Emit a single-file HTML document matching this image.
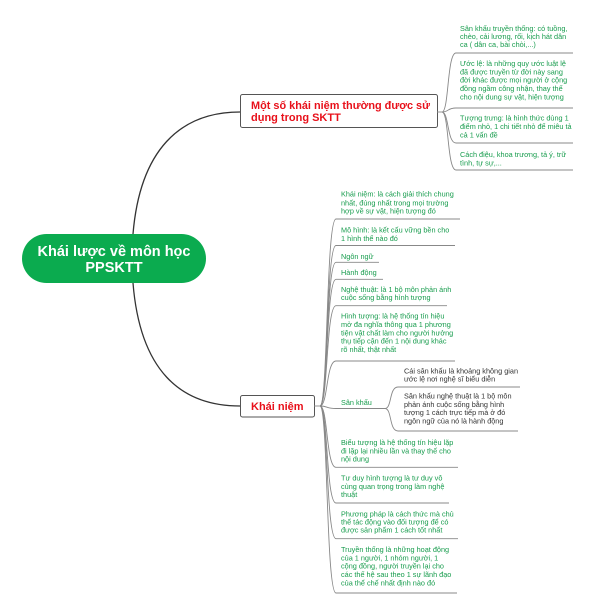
<!DOCTYPE html>
<html><head><meta charset="utf-8"><style>
html,body{margin:0;padding:0;background:#fff;}
svg{display:block;}
text{font-family:"Liberation Sans",Arial,sans-serif;}
.g{fill:#179c4d;font-size:7.3px;}
.d{fill:#333;font-size:7.3px;}
.r{fill:#e8101a;font-size:11px;font-weight:bold;}
.ln{fill:none;stroke:#888;stroke-width:0.9;}
</style></head><body>
<svg width="600" height="616" viewBox="0 0 600 616" xmlns="http://www.w3.org/2000/svg">
<path d="M133,234 C140,150 180,112 240,112" fill="none" stroke="#333" stroke-width="1.3"/>
<path d="M133,283 C140,370 180,406 240,406" fill="none" stroke="#333" stroke-width="1.3"/>
<rect x="22" y="234" width="184" height="49" rx="24.5" fill="#0bab4f"/>
<text x="114" y="256" text-anchor="middle" fill="#fff" font-size="14.5" font-weight="bold">Khái lược về môn học</text>
<text x="114" y="272" text-anchor="middle" fill="#fff" font-size="14.5" font-weight="bold">PPSKTT</text>

<rect x="240.5" y="94.5" width="197" height="33" rx="2" fill="#fff" stroke="#555" stroke-width="1"/>
<text class="r" x="251" y="109" textLength="179" lengthAdjust="spacingAndGlyphs">Một số khái niệm thường được sử</text>
<text class="r" x="251" y="121">dụng trong SKTT</text>
<path d="M437,112 L442,112" class="ln" stroke="#555"/>
<g class="ln">
<path d="M442,112 C449,112 447,53 456,53 L573,53"/>
<path d="M442,112 C449,112 447,108 456,108 L573,108"/>
<path d="M442,112 C449,112 447,143 456,143 L573,143"/>
<path d="M442,112 C449,112 447,170 456,170 L573,170"/>
</g>
<text class="g" x="460" y="31">Sân khấu truyền thống: có tuồng,</text>
<text class="g" x="460" y="39">chèo, cải lương, rối, kịch hát dân</text>
<text class="g" x="460" y="47">ca ( dân ca, bài chòi,...)</text>
<text class="g" x="460" y="66">Ước lệ: là những quy ước luật lệ</text>
<text class="g" x="460" y="74.4">đã được truyền từ đời này sang</text>
<text class="g" x="460" y="82.7">đời khác được mọi người ở cộng</text>
<text class="g" x="460" y="91">đồng ngầm công nhận, thay thế</text>
<text class="g" x="460" y="99.4">cho nội dung sự vật, hiện tượng</text>
<text class="g" x="460" y="120.7">Tượng trưng: là hình thức dùng 1</text>
<text class="g" x="460" y="129.2">điểm nhỏ, 1 chi tiết nhỏ để miêu tả</text>
<text class="g" x="460" y="137.6">cả 1 vấn đề</text>
<text class="g" x="460" y="157">Cách điệu, khoa trương, tả ý, trữ</text>
<text class="g" x="460" y="165.6">tình, tự sự,...</text>

<rect x="240.5" y="395.5" width="74" height="21.5" rx="2" fill="#fff" stroke="#555" stroke-width="1"/>
<text class="r" x="251" y="410">Khái niệm</text>
<path d="M314,406 L320,406" class="ln" stroke="#555"/>
<g class="ln">
<path d="M320,406 C328,406 326,219 336,219 L460,219"/>
<path d="M320,406 C328,406 326,245.5 336,245.5 L455,245.5"/>
<path d="M320,406 C328,406 326,262.3 336,262.3 L379,262.3"/>
<path d="M320,406 C328,406 326,279.3 336,279.3 L383,279.3"/>
<path d="M320,406 C328,406 326,305.7 336,305.7 L447,305.7"/>
<path d="M320,406 C328,406 326,361 336,361 L455,361"/>
<path d="M320,406 C328,406 326,408.5 336,408.5 L385,408.5"/>
<path d="M320,406 C328,406 326,467.3 336,467.3 L458,467.3"/>
<path d="M320,406 C328,406 326,503 336,503 L449,503"/>
<path d="M320,406 C328,406 326,538.7 336,538.7 L458,538.7"/>
<path d="M320,406 C328,406 326,593 336,593 L457,593"/>
<path d="M385,408.5 C392,408.5 389,387 398,387 L520,387"/>
<path d="M385,408.5 C392,408.5 389,431 398,431 L518,431"/>
</g>
<text class="g" x="341" y="196.7">Khái niệm: là cách giải thích chung</text>
<text class="g" x="341" y="205.4">nhất, đúng nhất trong mọi trường</text>
<text class="g" x="341" y="213.7">hợp về sự vật, hiện tượng đó</text>
<text class="g" x="341" y="232.7">Mô hình: là kết cấu vững bền cho</text>
<text class="g" x="341" y="241">1 hình thể nào đó</text>
<text class="g" x="341" y="259">Ngôn ngữ</text>
<text class="g" x="341" y="275">Hành động</text>
<text class="g" x="341" y="292">Nghệ thuật: là 1 bộ môn phản ánh</text>
<text class="g" x="341" y="300">cuộc sống bằng hình tượng</text>
<text class="g" x="341" y="318.4">Hình tượng: là hệ thống tín hiệu</text>
<text class="g" x="341" y="327">mở đa nghĩa thông qua 1 phương</text>
<text class="g" x="341" y="335.4">tiện vật chất làm cho người hưởng</text>
<text class="g" x="341" y="343.7">thụ tiếp cận đến 1 nội dung khác</text>
<text class="g" x="341" y="352">rõ nhất, thật nhất</text>
<text class="g" x="341" y="405.2">Sân khấu</text>
<text class="d" x="404" y="373.4">Cái sân khấu là khoảng không gian</text>
<text class="d" x="404" y="381.7">ước lệ nơi nghệ sĩ biểu diễn</text>
<text class="d" x="404" y="398.7">Sân khấu nghệ thuật là 1 bộ môn</text>
<text class="d" x="404" y="407">phản ánh cuộc sống bằng hình</text>
<text class="d" x="404" y="415">tượng 1 cách trực tiếp mà ở đó</text>
<text class="d" x="404" y="423.4">ngôn ngữ của nó là hành động</text>
<text class="g" x="341" y="445">Biểu tượng là hệ thống tín hiệu lặp</text>
<text class="g" x="341" y="453.4">đi lặp lại nhiều lần và thay thế cho</text>
<text class="g" x="341" y="461.7">nội dung</text>
<text class="g" x="341" y="480.7">Tư duy hình tượng là tư duy vô</text>
<text class="g" x="341" y="489">cùng quan trọng trong làm nghệ</text>
<text class="g" x="341" y="497">thuật</text>
<text class="g" x="341" y="516.4">Phương pháp là cách thức mà chủ</text>
<text class="g" x="341" y="524.7">thể tác động vào đối tượng để có</text>
<text class="g" x="341" y="532.7">được sản phẩm 1 cách tốt nhất</text>
<text class="g" x="341" y="552">Truyền thống là những hoạt động</text>
<text class="g" x="341" y="560.4">của 1 người, 1 nhóm người, 1</text>
<text class="g" x="341" y="568.7">cộng đồng, người truyền lại cho</text>
<text class="g" x="341" y="577">các thế hệ sau theo 1 sự lãnh đạo</text>
<text class="g" x="341" y="585.4">của thể chế nhất định nào đó</text>
</svg>
</body></html>
